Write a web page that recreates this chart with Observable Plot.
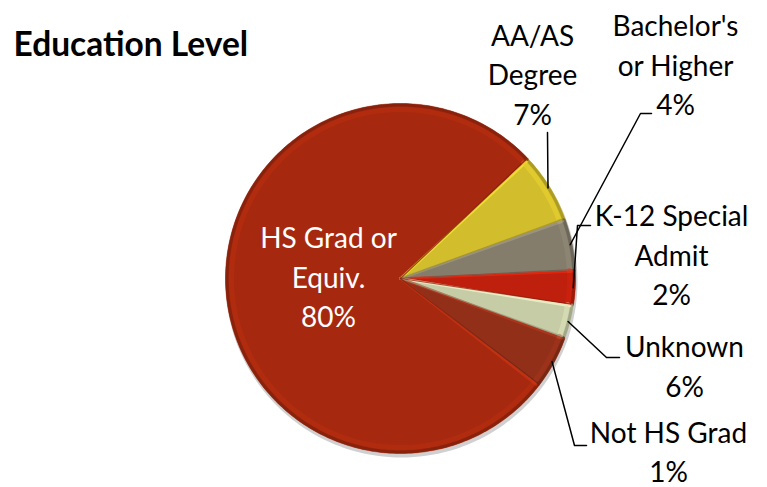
<!DOCTYPE html>
<html><head><meta charset="utf-8">
<script src="https://cdn.jsdelivr.net/npm/d3@7"></script>
<script src="https://cdn.jsdelivr.net/npm/@observablehq/plot@0.6"></script>
<style>body{margin:0;background:#fff;} svg{display:block;}</style>
</head><body><div id="chart"></div>
<script>
// ---- data ----
const title = "Education Level";
const categories = ["AA/AS Degree", "Bachelor's or Higher", "K-12 Special Admit", "Unknown", "Not HS Grad", "HS Grad or Equiv."];
const shares = [6.5, 4.75, 3.2, 3.1, 4.9, 77.55];          // slice sizes as drawn (%)
const percentLabels = ["7%", "4%", "2%", "6%", "1%", "80%"]; // printed labels
const labelText = ["AA/AS\nDegree", "Bachelor's\nor Higher", "K-12 Special\nAdmit", "Unknown", "Not HS Grad", "HS Grad or\nEquiv."];
const colors = ["#D2BD2C", "#847D6C", "#BE200D", "#C6CCA6", "#922F19", "#A6290F"];

// ---- layout (pixels) ----
const W = 767, H = 487, CX = 400, CY = 278, R = 175, START = 46.8;
const labelLayout = [
  {x: 532, y: 75.5, elbow: [547, 132], stub: null, fill: "#000"},
  {x: 675, y: 66, elbow: [640, 113], stub: [651, 113], fill: "#000"},
  {x: 671, y: 256, elbow: [577, 225], stub: [590, 225], fill: "#000"},
  {x: 684, y: 367.5, elbow: [606, 357], stub: [619, 357], fill: "#000"},
  {x: 668, y: 453, elbow: [574, 445], stub: [586, 445], fill: "#000"},
  {x: 328, y: 278, elbow: null, stub: null, fill: "#fff"}
];

// ---- build slices ----
const rad = d => d * Math.PI / 180;
const pt = (a, r, cx = CX, cy = CY) => [cx + r * Math.sin(rad(a)), cy - r * Math.cos(rad(a))];
const total = d3.sum(shares);
let acc = START;
const slices = categories.map((c, i) => {
  const a0 = acc, a1 = acc + shares[i] / total * 360;
  acc = a1;
  return {c, i, a0, a1, mid: (a0 + a1) / 2};
});
const arcPts = (s, r, key) => {
  const out = [];
  const n = Math.max(2, Math.ceil(s.a1 - s.a0));
  for (let k = 0; k <= n; k++) {
    const [x, y] = pt(s.a0 + (s.a1 - s.a0) * k / n, r);
    out.push({c: s.c, key, x, y});
  }
  return out;
};
const polyPts = [], rimDark = [], rimLight = [], edgeLight = [], edgeDark = [];
for (const s of slices) {
  polyPts.push({c: s.c, x: CX, y: CY}, ...arcPts(s, R, s.c));
  rimDark.push(...arcPts(s, R - 1.5, s.c));
  rimLight.push(...arcPts(s, R - 6, s.c));
  const [xa, ya] = pt(s.a0 + 0.4, R - 3), [xb, yb] = pt(s.a1 - 0.3, R - 3);
  edgeLight.push({c: s.c, x: CX, y: CY}, {c: s.c, x: xa, y: ya});
  edgeDark.push({c: s.c, x: CX, y: CY}, {c: s.c, x: xb, y: yb});
}
const shadowPts = d3.range(0, 361, 2).map(a => { const [x, y] = pt(a, R - 1, CX + 1, CY + 3); return {x, y}; });
const leaderPts = [];
slices.forEach((s, i) => {
  const L = labelLayout[i];
  if (!L.elbow) return;
  const [x0, y0] = pt(s.mid, R - 2);
  leaderPts.push({c: s.c, x: x0, y: y0});
  leaderPts.push({c: s.c, x: L.elbow[0], y: L.elbow[1]});
  if (L.stub) leaderPts.push({c: s.c, x: L.stub[0], y: L.stub[1]});
});
const labels = slices.map((s, i) => ({
  c: s.c, text: labelText[i] + "\n" + percentLabels[i],
  x: labelLayout[i].x, y: labelLayout[i].y, fill: labelLayout[i].fill
}));
const shade = (c, k) => k > 0 ? d3.color(c).brighter(k).formatHex() : d3.color(c).darker(-k).formatHex();

const chart = Plot.plot({
  width: W, height: H,
  margin: 0,
  x: {domain: [0, W], axis: null},
  y: {domain: [0, H], reverse: true, axis: null},
  color: {domain: categories, range: colors},
  style: {background: "#fff"},
  marks: [
    Plot.line(shadowPts, {x: "x", y: "y", stroke: "#777", strokeWidth: 4, strokeOpacity: 0.35, curve: "linear-closed"}),
    Plot.line(polyPts, {x: "x", y: "y", z: "c", fill: "c", stroke: "c", strokeWidth: 0.5, curve: "linear-closed"}),
    Plot.line(rimLight, {x: "x", y: "y", z: "c", stroke: d => shade(colors[categories.indexOf(d.c)], 0.5), strokeWidth: 5, strokeOpacity: 0.35}),
    Plot.line(rimDark, {x: "x", y: "y", z: "c", stroke: d => shade(colors[categories.indexOf(d.c)], -0.7), strokeWidth: 3, strokeOpacity: 0.8}),
    Plot.line(edgeLight, {x: "x", y: "y", z: "c", stroke: d => shade(colors[categories.indexOf(d.c)], 0.7), strokeWidth: 2.5, strokeOpacity: 0.6}),
    Plot.line(edgeDark, {x: "x", y: "y", z: "c", stroke: d => shade(colors[categories.indexOf(d.c)], -0.8), strokeWidth: 1.2, strokeOpacity: 0.7}),
    Plot.line(leaderPts, {x: "x", y: "y", z: "c", stroke: "#000", strokeWidth: 1.5}),
    Plot.text(labels, {x: "x", y: "y", dy: -3.5, text: "text", fill: d => d.fill, fontSize: 28, lineHeight: 1.41, fontFamily: "Lato", textAnchor: "middle"}),
    Plot.text([title], {frameAnchor: "top-left", dx: 13, dy: 32, text: d => d, fontSize: 33.5, fontWeight: "bold", fontFamily: "Lato", fill: "#000", textAnchor: "start"})
  ]
});
document.getElementById("chart").append(chart);
</script>
</body></html>
